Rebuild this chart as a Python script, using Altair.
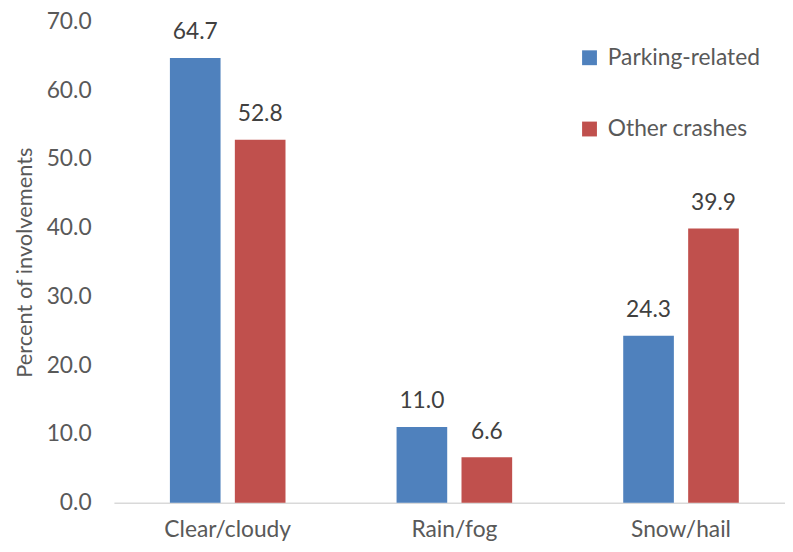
import altair as alt
import pandas as pd

categories = ["Clear/cloudy", "Rain/fog", "Snow/hail"]
series = ["Parking-related", "Other crashes"]
parking = [64.7, 11.0, 24.3]
other = [52.8, 6.6, 39.9]
colors = ["#4F81BD", "#C0504D"]
y_ticks = [0, 10, 20, 30, 40, 50, 60, 70]

rows = []
for c, p, o in zip(categories, parking, other):
    rows.append({"cat": c, "series": series[0], "value": p})
    rows.append({"cat": c, "series": series[1], "value": o})
df = pd.DataFrame(rows)

FONT = "Lato"
GRAY = "#595959"
FS = 23

x = alt.X("cat:N", sort=categories, title=None,
          scale=alt.Scale(paddingInner=0.49, paddingOuter=0.2254, align=0.548),
          axis=alt.Axis(labelAngle=0, domainColor="#D9D9D9", domainWidth=1.5,
                        ticks=False, labelPadding=16, labelFontSize=FS,
                        labelColor=GRAY, labelFont=FONT))
xo = alt.XOffset("series:N", sort=series, scale=alt.Scale(paddingInner=0.22))
y = alt.Y("value:Q", scale=alt.Scale(domain=[0, 70], nice=False),
          title="Percent of involvements",
          axis=alt.Axis(values=y_ticks, format=".1f", grid=False, domain=False,
                        ticks=False, labelPadding=23, labelFontSize=FS,
                        labelColor=GRAY, labelFont=FONT, titleFont=FONT,
                        titleFontSize=22, titleFontWeight="normal",
                        titleColor=GRAY, titlePadding=10))
color = alt.Color("series:N", sort=series,
                  scale=alt.Scale(domain=series, range=colors),
                  legend=alt.Legend(title=None, orient="none", legendX=469,
                                    legendY=25, symbolType="square",
                                    symbolSize=225, symbolStrokeWidth=0,
                                    labelFontSize=FS, labelFont=FONT,
                                    labelColor=GRAY, rowPadding=48,
                                    labelOffset=7, labelLimit=400))

base = alt.Chart(df).encode(x=x, xOffset=xo, y=y)
bars = base.mark_bar().encode(color=color)
labels = base.mark_text(dy=-26, fontSize=FS, font=FONT, color="#404040").encode(
    text=alt.Text("value:Q", format=".1f"))

chart = alt.layer(bars, labels).properties(
    width=678, height=486,
    autosize=alt.AutoSizeParams(type="none"),
    padding={"left": 107, "top": 11, "right": 0, "bottom": 40},
).configure_view(stroke=None)

chart.save("out.html", embed_options={"renderer": "svg", "actions": False})
